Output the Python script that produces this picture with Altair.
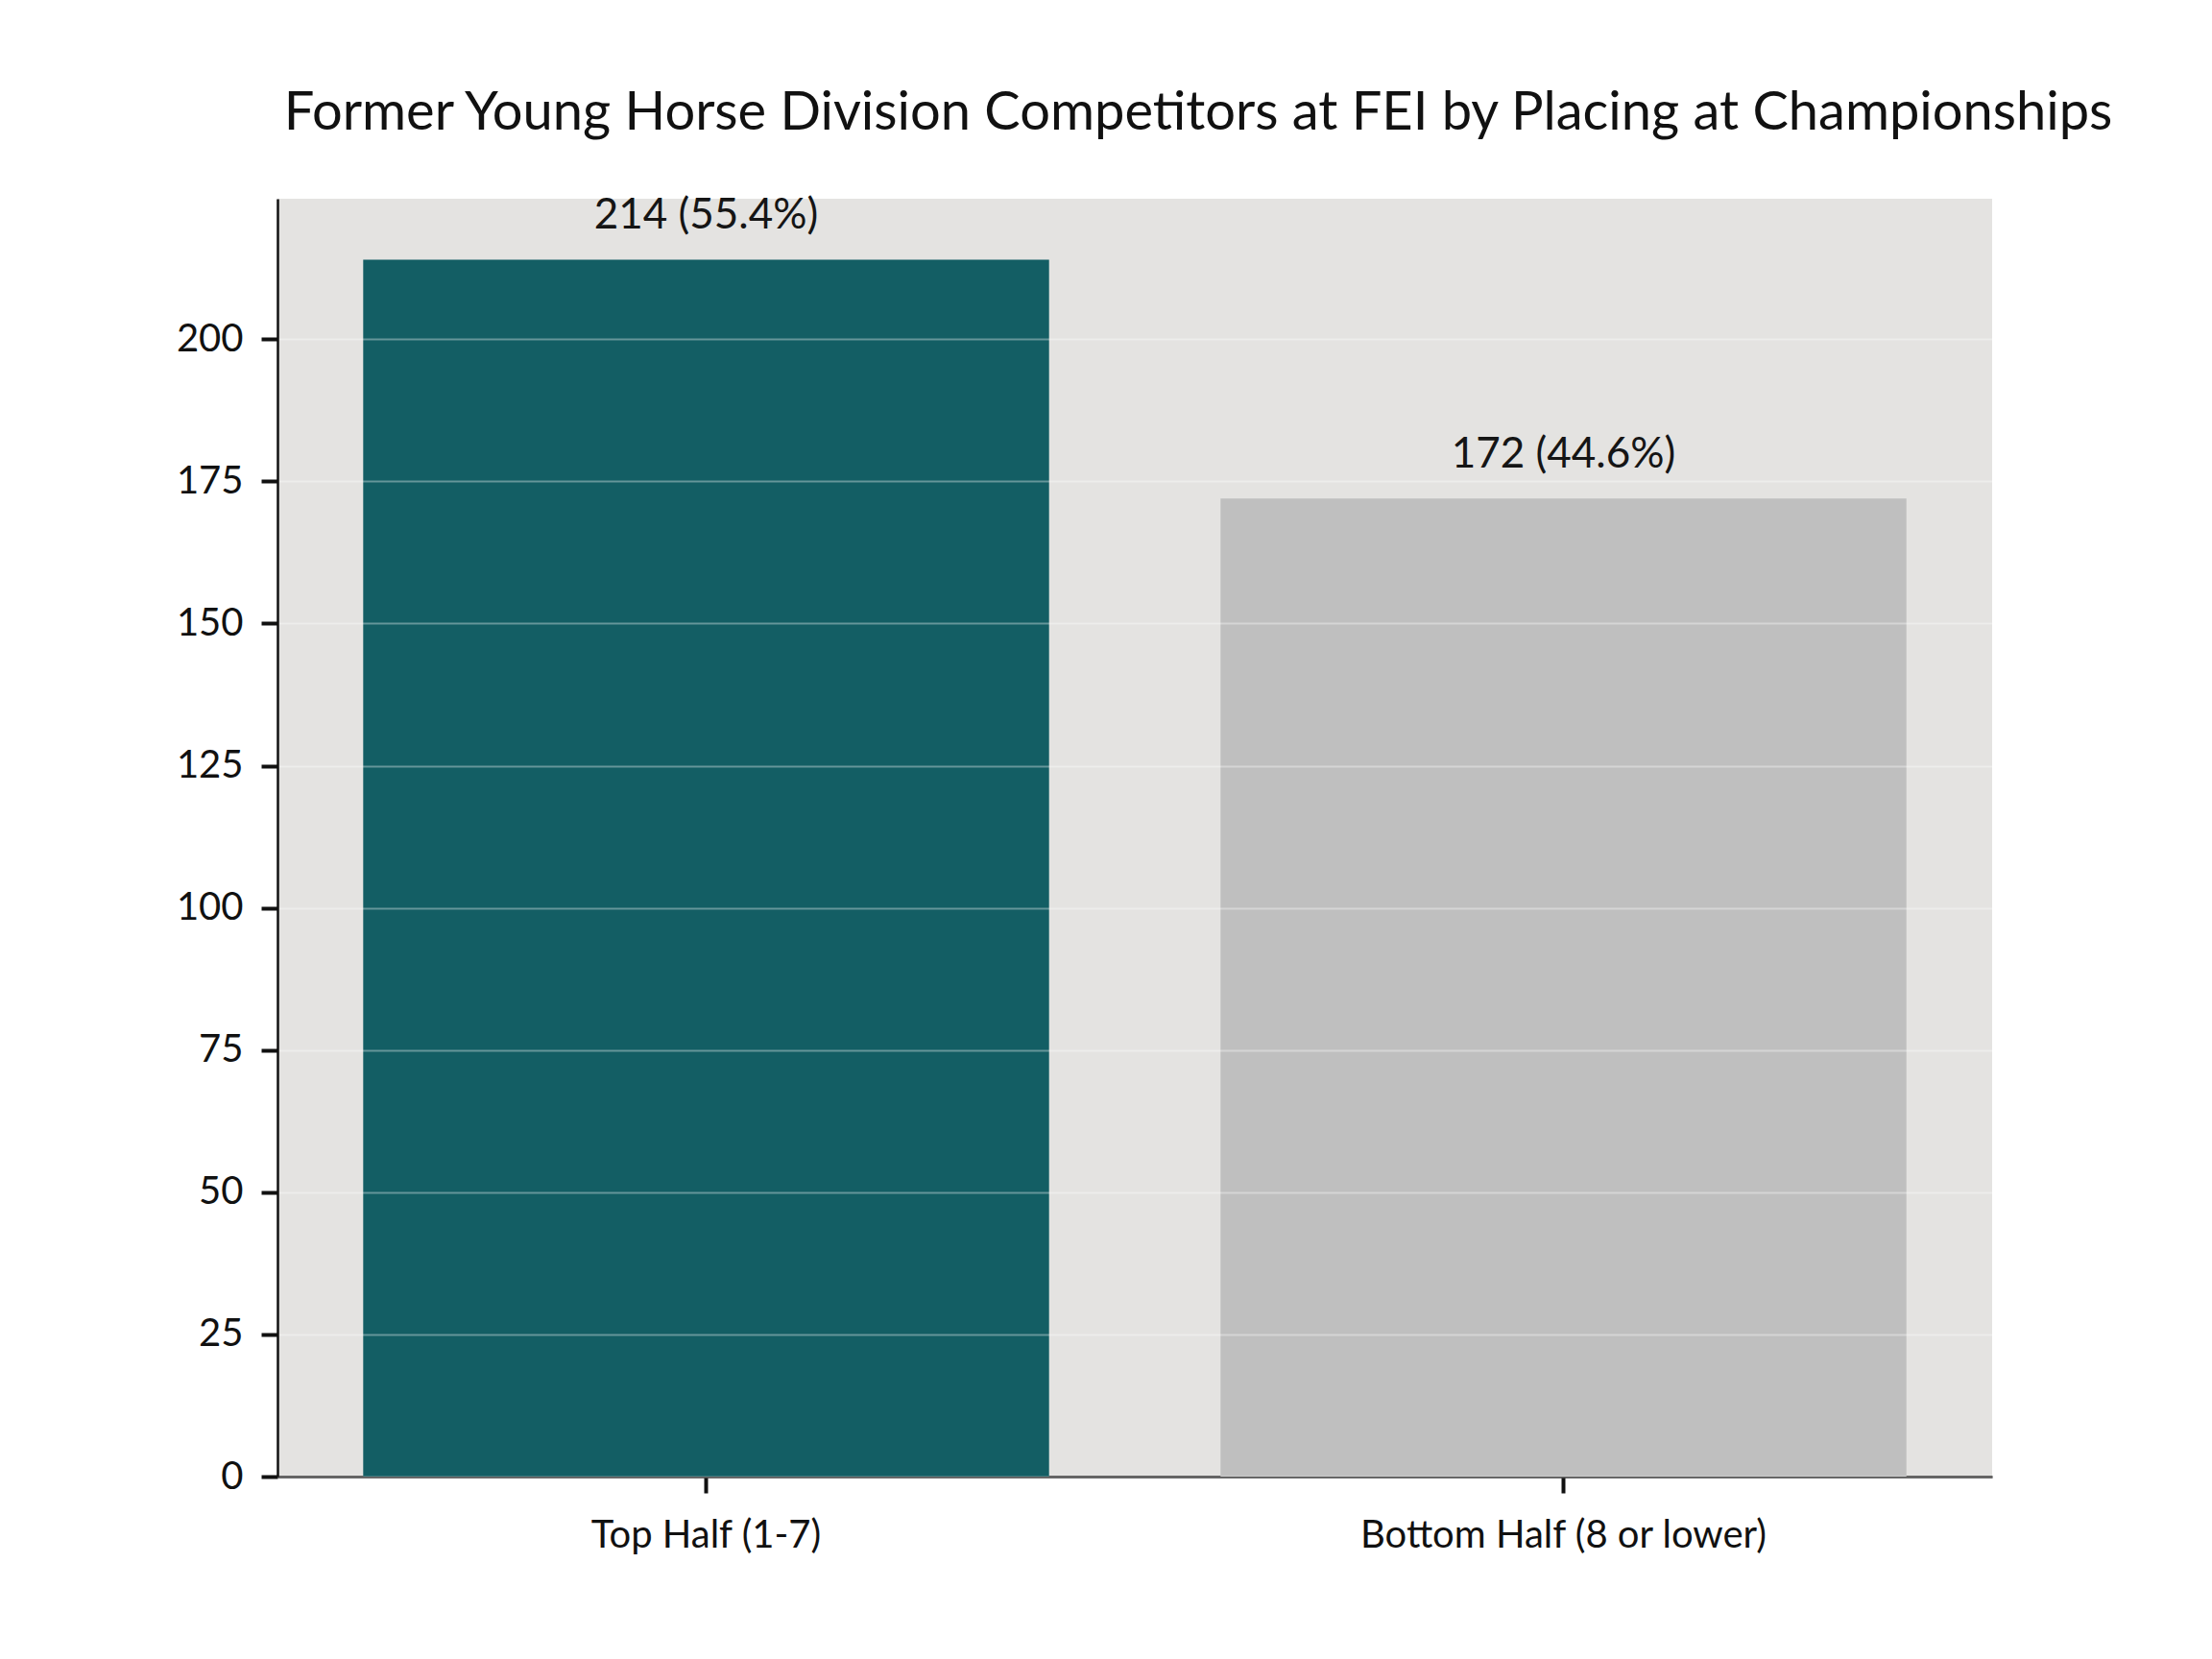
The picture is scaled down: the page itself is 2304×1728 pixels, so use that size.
import altair as alt
import pandas as pd

categories = ["Top Half (1-7)", "Bottom Half (8 or lower)"]
counts = [214, 172]
percents = [55.4, 44.6]
bar_colors = ["#135E64", "#BFBFBF"]
y_ticks = [0, 25, 50, 75, 100, 125, 150, 175, 200]

df = pd.DataFrame({
    "category": categories,
    "count": counts,
    "pct": percents,
    "color": bar_colors,
})
df["label"] = [f"{c} ({p:.1f}%)" for c, p in zip(counts, percents)]

FONT = "Lato"

x = alt.X(
    "category:N",
    sort=categories,
    scale=alt.Scale(paddingInner=0.2, paddingOuter=0.1),
    axis=alt.Axis(
        title=None, labelAngle=0, labelFontSize=40, labelColor="#111111",
        labelPadding=24, tickSize=17, tickWidth=4, tickColor="#111111",
        domainColor="#111111", domainWidth=2.5, grid=False, labelFont=FONT,
        labelLimit=0,
    ),
)
y = alt.Y(
    "count:Q",
    scale=alt.Scale(domain=[0, 224.7], nice=False, zero=True),
    axis=alt.Axis(
        title=None, values=y_ticks, labelFontSize=40, labelColor="#111111",
        labelPadding=19, tickSize=17, tickWidth=4, tickColor="#111111",
        domainColor="#111111", domainWidth=2.5, grid=True, gridColor="#FFFFFF",
        gridOpacity=0.35, gridWidth=2, zindex=1, labelFont=FONT,
    ),
)

bars = alt.Chart(df).mark_bar().encode(
    x=x, y=y, color=alt.Color("color:N", scale=None)
)
text = alt.Chart(df).mark_text(
    baseline="alphabetic", dy=-32, fontSize=44, color="#151515", font=FONT
).encode(x=alt.X("category:N", sort=categories), y="count:Q", text="label:N")

chart = (bars + text).properties(
    width=1786,
    height=1331,
    background="#FFFFFF",
    title=alt.TitleParams(
        "Former Young Horse Division Competitors at FEI by Placing at Championships",
        fontSize=56, font=FONT, fontWeight="normal", color="#111111",
        anchor="middle", dx=66, offset=12, baseline="alphabetic",
    ),
    autosize=alt.AutoSizeParams(type="none"),
    padding={"left": 281, "top": 199, "right": 200, "bottom": 160},
).configure_view(fill="#E4E3E1", strokeWidth=0)

chart.save("out.html", embed_options={"renderer": "svg", "actions": False})
